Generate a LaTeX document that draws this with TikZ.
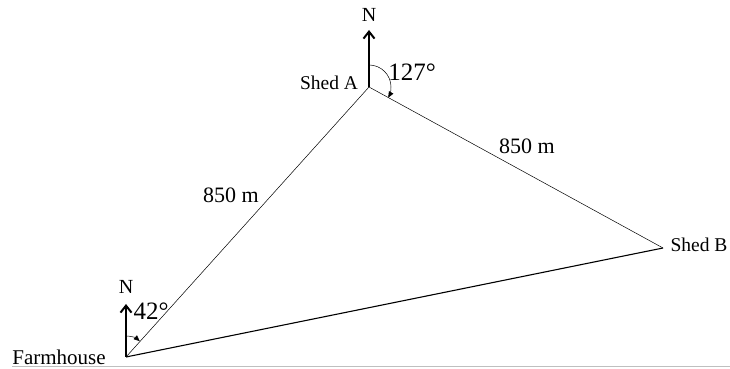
\documentclass[tikz,border=0pt]{standalone}
\usepackage{fontspec}
\setmainfont{Liberation Serif}
\usetikzlibrary{arrows.meta}
\begin{document}
\begin{tikzpicture}[x=1pt,y=1pt,
  thinline/.style={line width=0.5pt},
  thickline/.style={line width=1.1pt},
  northarrow/.style={line width=1.8pt,-{Straight Barb[length=7pt,width=11pt,line width=2pt]}},
  anglearc/.style={line width=0.5pt,-{Triangle[length=6pt,width=5pt]}},
  lbl/.style={inner sep=0pt,font=\fontsize{#1}{#1}\selectfont}]
\useasboundingbox (0,0) rectangle (730,369);
\coordinate (F) at (126,12);
\coordinate (A) at (369,282);
\coordinate (B) at (663,121);
\coordinate (FN) at (126,65);
\coordinate (AN) at (369,339);
\coordinate (bl) at (12,3);
\coordinate (br) at (730,3);
\draw[gray!50,line width=0.6pt] (bl) -- (br);
\draw[thinline] (F) -- (A) -- (B);
\draw[thickline] (F) -- (B);
\draw[northarrow] (F) -- (FN);
\draw[northarrow] (A) -- (AN);
\draw[anglearc] ([yshift=21pt]F) arc[start angle=90,end angle=49,radius=21pt];
\draw[anglearc] ([yshift=22pt]A) arc[start angle=90,end angle=-29,radius=22pt];
\node[lbl=20] (nF) at (126,82) {N};
\node[lbl=20] (nA) at (369,354) {N};
\node[lbl=25] (a42) at (151,58) {42°};
\node[lbl=25] (a127) at (412,297) {127°};
\node[lbl=22] (dFA) at (231,174) {850 m};
\node[lbl=22] (dAB) at (527,223) {850 m};
\node[lbl=19.5] (sA) at (329,286) {Shed A};
\node[lbl=19.5] (sB) at (699,124) {Shed B};
\node[lbl=21] (fh) at (59,12) {Farmhouse};
\end{tikzpicture}
\end{document}
